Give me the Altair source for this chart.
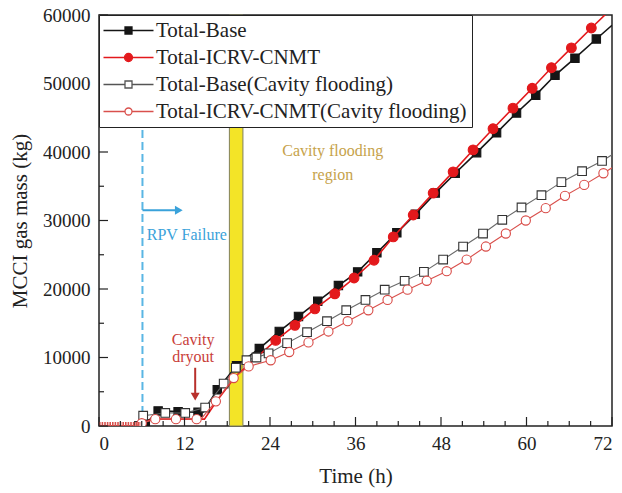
import altair as alt
import pandas as pd

# ---------------- data (time in h, mass in kg) ----------------
series_names = ["Total-Base", "Total-ICRV-CNMT",
                "Total-Base(Cavity flooding)", "Total-ICRV-CNMT(Cavity flooding)"]

base_t = [0, 6.0, 6.5, 8.3, 11.1, 13.9, 14.6, 16.6, 19.3, 22.5, 25.3, 28.0, 30.7, 33.6, 36.3,
          39.0, 41.8, 44.4, 47.2, 50.0, 53.0, 55.8, 58.6, 61.3, 64.0, 66.8, 69.8, 72.0]
base_m = [0, 0, 300, 2200, 2100, 2000, 2000, 5300, 8800, 11300, 13800, 16000, 18200, 20500, 22500,
          25300, 28200, 30900, 34000, 36900, 39900, 42800, 45700, 48300, 51200, 53700, 56500, 58500]
base_mk = [0, 0, 1, 1, 1, 1, 0, 1, 1, 1, 1, 1, 1, 1, 1,
           1, 1, 1, 1, 1, 1, 1, 1, 1, 1, 1, 1, 0]

icrv_t = [0, 6.0, 6.5, 7.8, 13.8, 14.8, 16.5, 19.2, 24.8, 27.5, 30.3, 33.1, 35.8, 38.6, 41.3,
          44.1, 46.9, 49.7, 52.5, 55.3, 58.1, 60.8, 63.5, 66.3, 69.1, 72.0]
icrv_m = [0, 0, 700, 1000, 1000, 1000, 3600, 7300, 12500, 14700, 17100, 19300, 21600, 24200, 27600,
          30800, 34000, 37100, 40300, 43400, 46400, 49300, 52300, 55200, 58100, 61000]
icrv_mk = [0, 0, 0, 0, 0, 0, 0, 0, 1, 1, 1, 1, 1, 1, 1,
           1, 1, 1, 1, 1, 1, 1, 1, 1, 1, 0]

bf_t = [0, 5.6, 6.2, 9.3, 12.1, 14.9, 17.5, 19.2, 20.7, 22.1, 23.8, 26.4, 29.2, 32.0, 34.7,
        37.4, 40.1, 42.9, 45.6, 48.3, 51.1, 53.9, 56.6, 59.3, 62.1, 64.9, 67.8, 70.6, 72.0]
bf_m = [0, 0, 1500, 1900, 1900, 2700, 6200, 8500, 9600, 10000, 10600, 12100, 13700, 15300, 16900,
        18400, 19900, 21200, 22500, 24300, 26200, 28100, 30100, 31900, 33700, 35600, 37200, 38700, 39600]
bf_mk = [0, 1, 1, 1, 1, 1, 1, 1, 1, 1, 1, 1, 1, 1, 1,
         1, 1, 1, 1, 1, 1, 1, 1, 1, 1, 1, 1, 1, 0]

if_t = [0, 5.9, 6.0, 7.9, 10.8, 13.7, 14.3, 16.4, 18.9, 21.0, 24.1, 26.7, 29.4, 32.2, 34.9,
        37.8, 40.5, 43.3, 46.0, 48.8, 51.6, 54.3, 57.1, 59.9, 62.7, 65.4, 68.1, 70.8, 72.0]
if_m = [0, 0, 400, 1000, 1000, 1000, 1000, 3600, 7000, 8700, 9600, 10800, 12200, 13800, 15300,
        16900, 18400, 19900, 21200, 22600, 24300, 26200, 28100, 30000, 31800, 33600, 35200, 36900, 37700]
if_mk = [0, 0, 1, 1, 1, 1, 0, 1, 1, 1, 1, 1, 1, 1, 1,
         1, 1, 1, 1, 1, 1, 1, 1, 1, 1, 1, 1, 1, 0]

# axis ticks
x_major = [0, 12, 24, 36, 48, 60, 72]
x_minor = [3, 6, 9, 15, 18, 21, 27, 30, 33, 39, 42, 45, 51, 54, 57, 63, 66, 69]
y_major = [0, 10000, 20000, 30000, 40000, 50000, 60000]
y_minor = [5000, 15000, 25000, 35000, 45000, 55000]

# annotations
rpv_time = 6.1
band_start, band_end = 18.3, 20.2
rpv_arrow = (6.1, 11.2, 31500)
dryout_arrow = (13.5, 8500, 4300)

frames = []
for name, t, m, mk in [(series_names[0], base_t, base_m, base_mk),
                       (series_names[1], icrv_t, icrv_m, icrv_mk),
                       (series_names[2], bf_t, bf_m, bf_mk),
                       (series_names[3], if_t, if_m, if_mk)]:
    frames.append(pd.DataFrame({"series": name, "t": t, "m": m, "mk": mk}))
df = pd.concat(frames, ignore_index=True)

FONT = "Liberation Serif"
W, H = 513, 411

xs = alt.Scale(domain=[0, 72], nice=False, zero=False)
ys = alt.Scale(domain=[0, 60000], nice=False)
X = alt.X("t:Q", scale=xs, axis=alt.Axis(values=x_major, title="Time (h)", labelPadding=8,
                                          titlePadding=12, tickSize=0))
Y = alt.Y("m:Q", scale=ys, axis=alt.Axis(values=y_major, title="MCCI gas mass (kg)", format="d",
                                          labelPadding=9, titlePadding=12, tickSize=0))

base = alt.Chart(df)

band = alt.Chart(pd.DataFrame({"a": [band_start], "b": [band_end], "y0": [0], "y1": [60000]})).mark_rect(
    color="#f3e427", stroke="#80805a", strokeWidth=1).encode(
    x=alt.X("a:Q", scale=xs), x2="b:Q", y=alt.Y("y0:Q", scale=ys), y2="y1:Q")

rpv_line = alt.Chart(pd.DataFrame({"t": [rpv_time], "y0": [0], "y1": [60000]})).mark_rule(
    color="#5ab6e4", strokeWidth=2, strokeDash=[8, 4]).encode(
    x=alt.X("t:Q", scale=xs), y=alt.Y("y0:Q", scale=ys), y2="y1:Q")

styles = {
    series_names[0]: dict(line="#151515", lw=1.6, shape="square", fill="#151515", stroke="#151515", size=70),
    series_names[1]: dict(line="#e3191c", lw=1.6, shape="circle", fill="#e3191c", stroke="#e3191c", size=95),
    series_names[2]: dict(line="#6a6a6a", lw=1.1, shape="square", fill="white", stroke="#333333", size=75),
    series_names[3]: dict(line="#d9504c", lw=1.1, shape="circle", fill="white", stroke="#d84a46", size=85),
}

layers = [band, rpv_line]
for name in series_names:
    s = styles[name]
    sub = base.transform_filter(alt.datum.series == name)
    layers.append(sub.mark_line(color=s["line"], strokeWidth=s["lw"], clip=True).encode(x=X, y=Y))
    layers.append(sub.transform_filter(alt.datum.mk == 1).mark_point(
        shape=s["shape"], filled=True, fill=s["fill"], stroke=s["stroke"], strokeWidth=1.1,
        size=s["size"], opacity=1, clip=True).encode(x=alt.X("t:Q", scale=xs), y=alt.Y("m:Q", scale=ys)))

# hatched start of the ICRV-CNMT(Cavity flooding) series (dense markers at zero)
hatch = base.transform_filter((alt.datum.series == series_names[3]) & (alt.datum.t <= 5.9)).mark_line(
    color="#d9504c", strokeWidth=8, strokeDash=[1.6, 1.0], clip=True).encode(
    x=alt.X("t:Q", scale=xs), y=alt.Y("m:Q", scale=ys))
layers.append(hatch)

# inward ticks
def vticks(vals, length):
    return alt.Chart(pd.DataFrame({"t": vals})).mark_rule(color="#222", strokeWidth=1.2).encode(
        x=alt.X("t:Q", scale=xs), y=alt.value(H), y2=alt.value(H - length))

def hticks(vals, length):
    return alt.Chart(pd.DataFrame({"m": vals})).mark_rule(color="#222", strokeWidth=1.2).encode(
        y=alt.Y("m:Q", scale=ys), x=alt.value(0), x2=alt.value(length))

layers += [vticks(x_major, 9), vticks(x_minor, 5), hticks(y_major, 9), hticks(y_minor, 5)]

# annotations
ann = pd.DataFrame({
    "t": [6.7, 32.8, 32.8, 13.2, 13.2],
    "m": [27900, 40100, 36600, 12600, 10100],
    "txt": ["RPV Failure", "Cavity flooding", "region", "Cavity", "dryout"],
    "col": ["#3aa2da", "#c6a24a", "#c6a24a", "#c9403a", "#c9403a"],
    "al": ["left", "center", "center", "center", "center"],
})
for al in ["left", "center"]:
    layers.append(alt.Chart(ann).transform_filter(alt.datum.al == al).mark_text(
        font=FONT, fontSize=16, align=al, baseline="middle").encode(
        x=alt.X("t:Q", scale=xs), y=alt.Y("m:Q", scale=ys), text="txt:N",
        color=alt.Color("col:N", scale=None)))

rpv_arr = pd.DataFrame({"x0": [rpv_arrow[0]], "x1": [rpv_arrow[1]], "y": [rpv_arrow[2]]})
layers.append(alt.Chart(rpv_arr).mark_rule(color="#3aa2da", strokeWidth=2).encode(
    x=alt.X("x0:Q", scale=xs), x2="x1:Q", y=alt.Y("y:Q", scale=ys)))
layers.append(alt.Chart(rpv_arr).mark_point(shape="triangle-right", filled=True, color="#3aa2da",
                                             size=80, opacity=1).encode(
    x=alt.X("x1:Q", scale=xs), y=alt.Y("y:Q", scale=ys)))

dry_arr = pd.DataFrame({"x": [dryout_arrow[0]], "y0": [dryout_arrow[1]], "y1": [dryout_arrow[2]]})
layers.append(alt.Chart(dry_arr).mark_rule(color="#b8302c", strokeWidth=2).encode(
    x=alt.X("x:Q", scale=xs), y=alt.Y("y0:Q", scale=ys), y2="y1:Q"))
layers.append(alt.Chart(dry_arr).mark_point(shape="triangle-down", filled=True, color="#b8302c",
                                             size=80, opacity=1).encode(
    x=alt.X("x:Q", scale=xs), y=alt.Y("y1:Q", scale=ys)))

# legend (symbols only, through the scales); path units: 1 = 5 px at size 100
sq = "M-5,0H-0.7M0.7,0H5M-0.7,-0.7H0.7V0.7H-0.7Z"
ci = "M-5,0H-0.8M0.8,0H5M-0.8,0A0.8,0.8 0 1,0 0.8,0A0.8,0.8 0 1,0 -0.8,0Z"
ci2 = "M-5,0H-0.7M0.7,0H5M-0.7,0A0.7,0.7 0 1,0 0.7,0A0.7,0.7 0 1,0 -0.7,0Z"
legend_layer = base.transform_filter("false").mark_point(filled=True, opacity=1, size=100,
                                                         strokeWidth=1.3).encode(
    x=alt.X("t:Q", scale=xs), y=alt.Y("m:Q", scale=ys),
    shape=alt.Shape("series:N", title=None,
                    scale=alt.Scale(domain=series_names, range=[sq, ci, sq, ci2])),
    stroke=alt.Stroke("series:N", title=None,
                      scale=alt.Scale(domain=series_names,
                                      range=["#151515", "#e3191c", "#555555", "#d9504c"])),
    fill=alt.Fill("series:N", title=None,
                  scale=alt.Scale(domain=series_names,
                                  range=["#151515", "#e3191c", "white", "white"])),
)
layers.append(legend_layer)

chart = alt.layer(*layers).properties(
    width=W, height=H,
    autosize=alt.AutoSizeParams(type="none"),
    padding={"left": 99, "top": 15, "right": 10, "bottom": 67},
).configure_view(stroke="#222", strokeWidth=1.5).configure_axis(
    domain=False, ticks=False, grid=False, labelFont=FONT, labelFontSize=19, labelColor="#222",
    titleFont=FONT, titleFontSize=21, titleFontWeight="normal", titleColor="#222",
).configure_legend(
    orient="top-left", offset=0, padding=5, rowPadding=5, labelFont=FONT, labelFontSize=21,
    labelColor="#222", labelOffset=17, strokeColor="#222", fillColor="white", symbolOffset=14,
    symbolSize=100, symbolStrokeWidth=1.3, zindex=1, labelLimit=400,
)

chart.save("out.html", embed_options={"renderer": "svg", "actions": False})
